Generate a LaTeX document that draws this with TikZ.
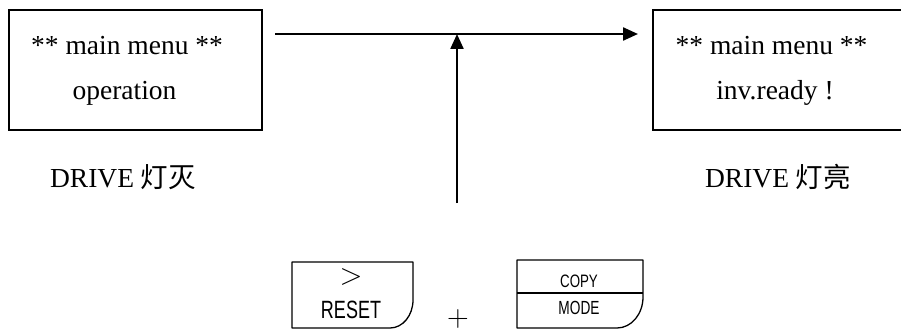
\documentclass[tikz,border=0pt]{standalone}
\usepackage{fontspec}
\setmainfont{Liberation Serif}
\setsansfont{Liberation Sans}
\newfontfamily\cjk{Noto Sans CJK SC}
\usetikzlibrary{arrows.meta}
\tikzset{
  scrbox/.style={draw, line width=2pt, minimum width=253pt, minimum height=120pt, inner sep=0pt},
  scrtxt/.style={anchor=base, inner sep=0pt, font=\fontsize{27.5}{30}\selectfont},
  arr/.style={line width=2.3pt, -{Triangle[length=15pt,width=13pt]}},
  keyline/.style={line width=1.3pt, line join=round},
  keytxt/.style={inner sep=0pt, font=\sffamily},
}
\begin{document}
\begin{tikzpicture}[x=1pt,y=-1pt]
\useasboundingbox (0,0) rectangle (901,331);
% screen boxes
\node[scrbox] (lbox) at (135.5,70) {};
\node[scrbox, minimum width=254pt] (rbox) at (780,70) {};
\node[scrtxt] (l1) at (127,55) {** main menu **};
\node[scrtxt] (l2) at (124.5,100) {operation};
\node[scrtxt] (r1) at (771.5,55) {** main menu **};
\node[scrtxt] (r2) at (775,100) {inv.ready !};
% labels
\node[scrtxt] (ldrive) at (123,187) {DRIVE {\cjk 灯灭}};
\node[scrtxt] (rdrive) at (778,187) {DRIVE {\cjk 灯亮}};
% arrows
\coordinate (hs) at ([xshift=12pt]lbox.east |- 0,34);
\coordinate (he) at ([xshift=-14pt]rbox.west |- 0,34);
\draw[arr] (hs) -- (he);
\coordinate (vs) at (457,203);
\draw[arr] (vs) -- (vs |- hs);
% RESET key
\draw[keyline] (292,262) -- (413,262) -- (413,300)
  .. controls (413,315.5) and (402.7,328) .. (390,328) -- (292,328) -- cycle;
\node[inner sep=0pt] (gt) at (351,277) {\fontsize{20}{20}\selectfont\scalebox{1.45}{$>$}};
\node[keytxt] (reset) at (351,310) {\fontsize{25}{25}\selectfont\scalebox{0.72}[1]{RESET}};
% plus
\node[inner sep=0pt] (plus) at (458,318.5) {\fontsize{20}{20}\selectfont\scalebox{1.45}{$+$}};
% COPY / MODE key
\draw[keyline] (517,260) -- (643,260) -- (643,297)
  .. controls (643,314.1) and (631.4,328) .. (617,328) -- (517,328) -- cycle;
\draw[keyline] (517,293) -- (643,293);
\node[keytxt] (copy) at (579,281.5) {\fontsize{18}{18}\selectfont\scalebox{0.74}[1]{COPY}};
\node[keytxt] (mode) at (579,307.5) {\fontsize{19}{19}\selectfont\scalebox{0.72}[1]{MODE}};
\end{tikzpicture}
\end{document}
